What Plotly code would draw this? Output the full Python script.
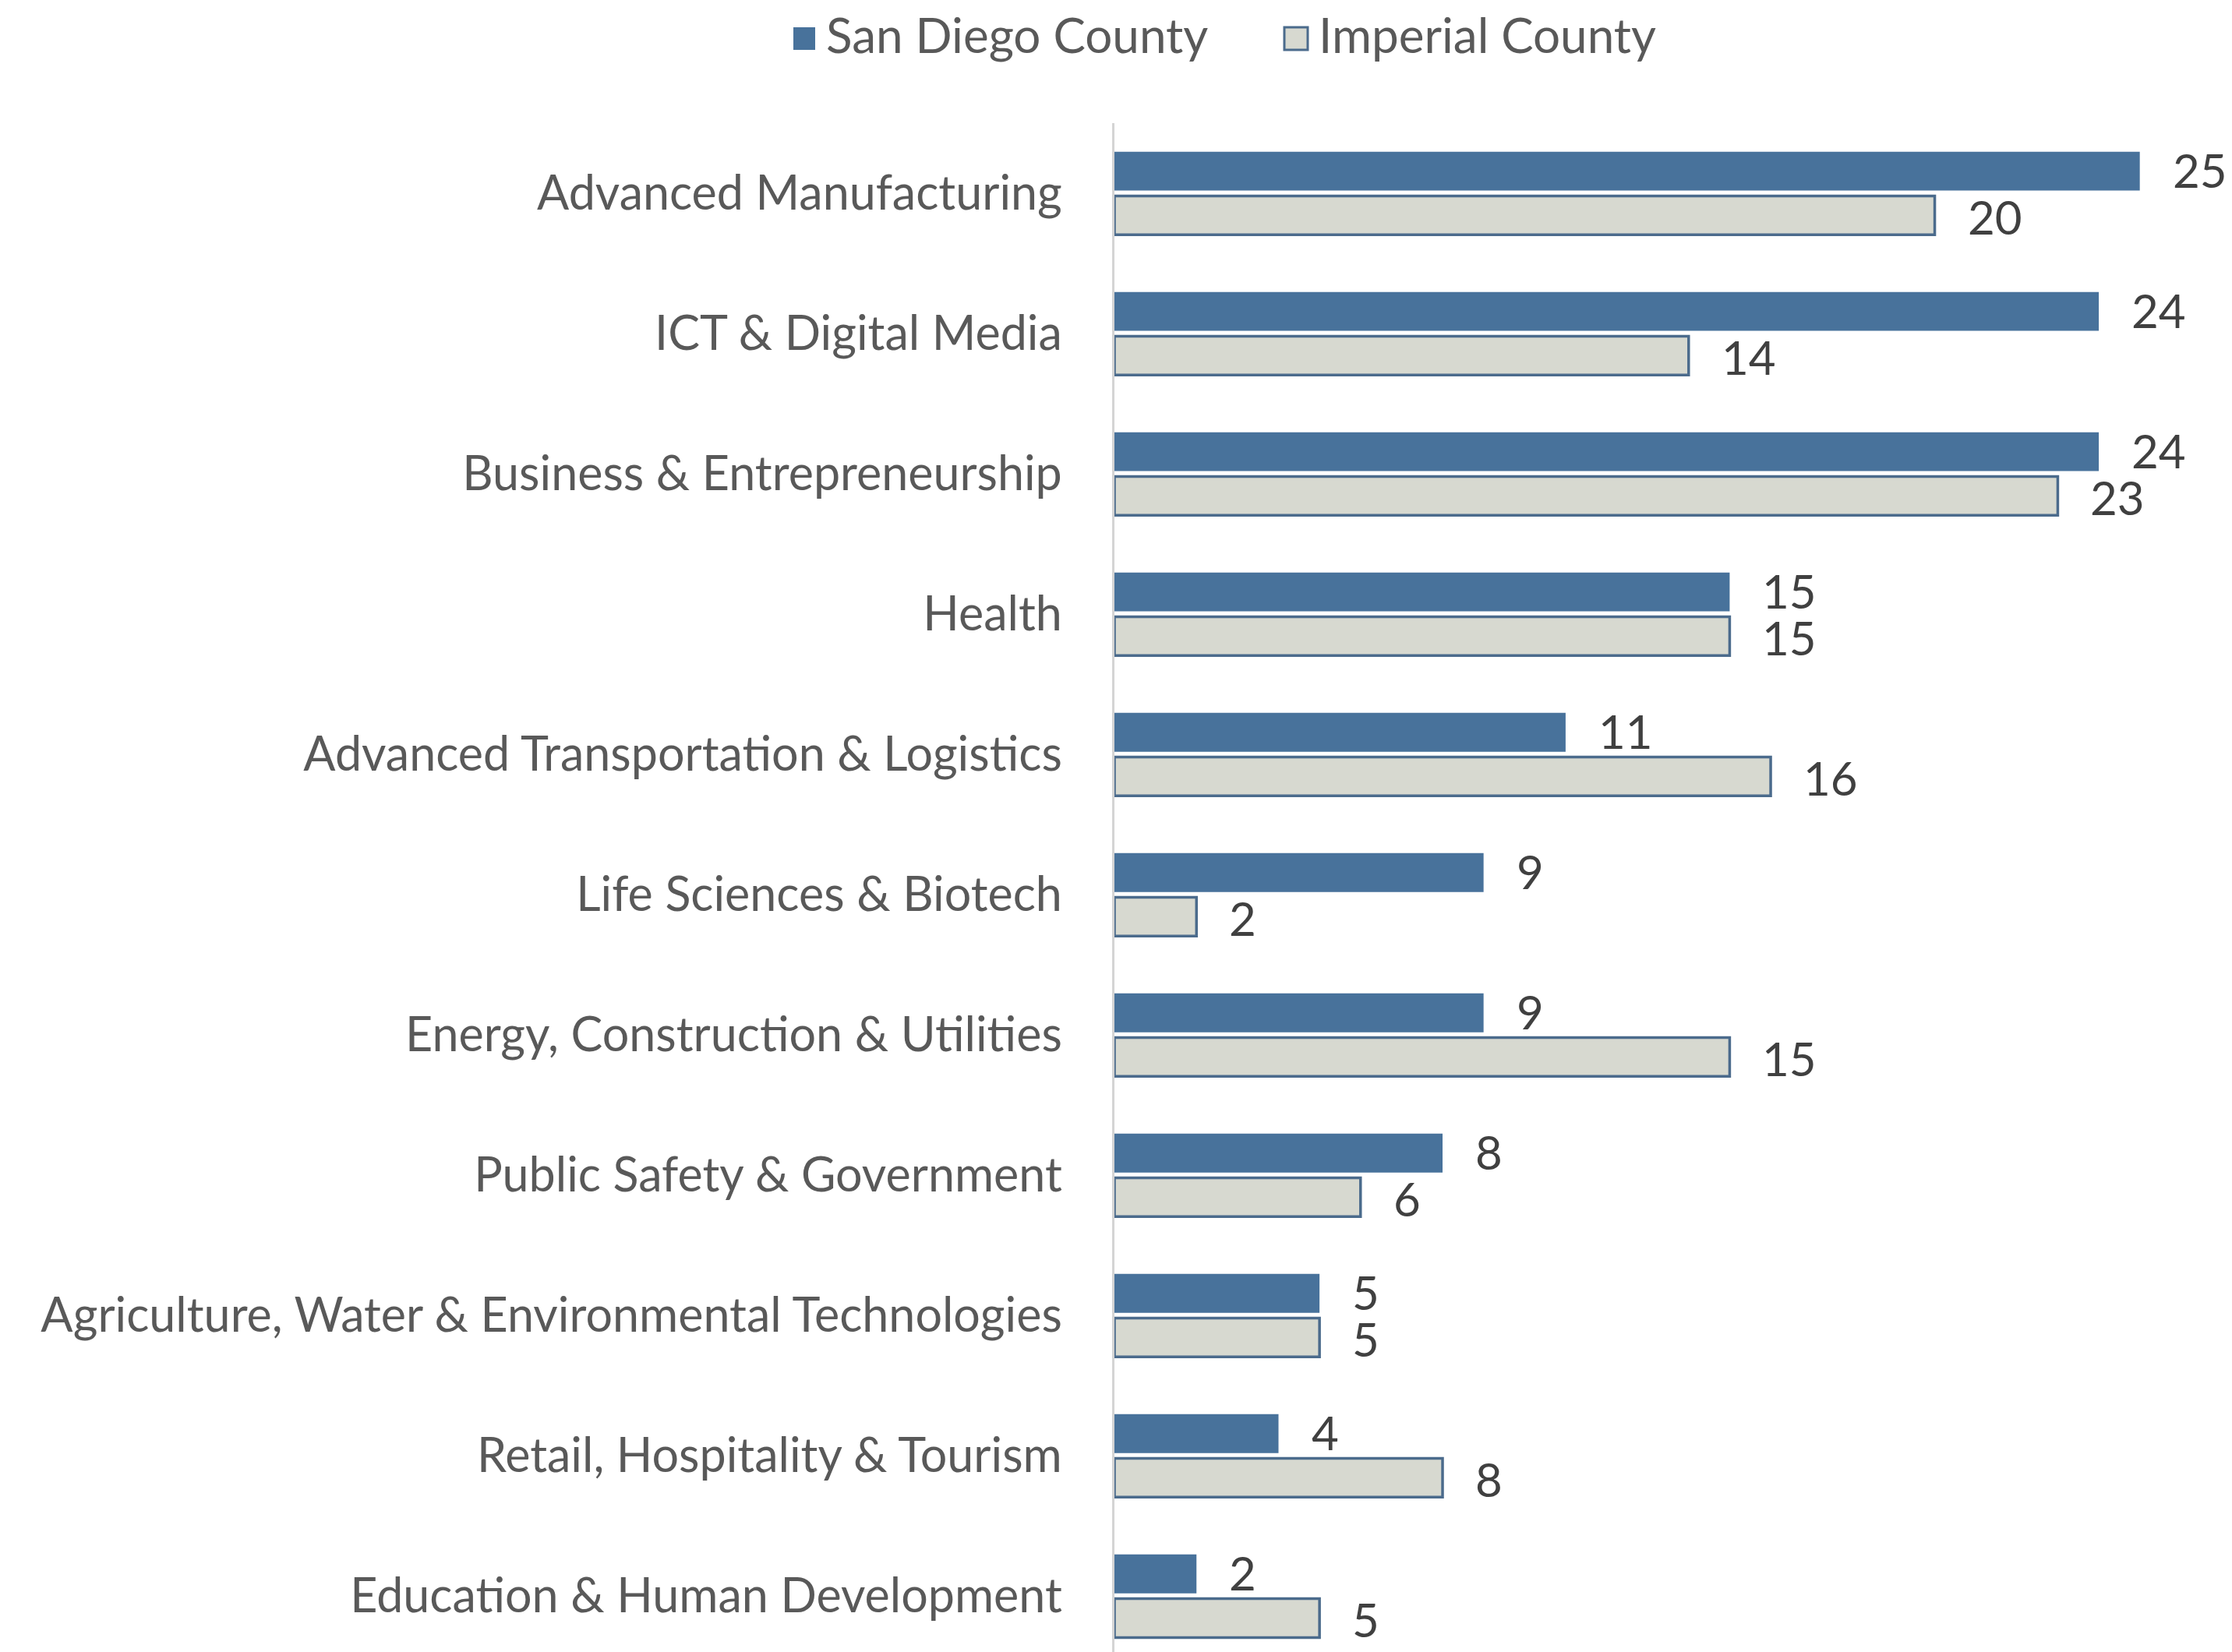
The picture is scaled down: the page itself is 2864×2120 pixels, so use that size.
import plotly.graph_objects as go

categories = [
    "Advanced Manufacturing",
    "ICT & Digital Media",
    "Business & Entrepreneurship",
    "Health",
    "Advanced Transportation & Logistics",
    "Life Sciences & Biotech",
    "Energy, Construction & Utilities",
    "Public Safety & Government",
    "Agriculture, Water & Environmental Technologies",
    "Retail, Hospitality & Tourism",
    "Education & Human Development",
]
san_diego = [25, 24, 24, 15, 11, 9, 9, 8, 5, 4, 2]
imperial = [20, 14, 23, 15, 16, 2, 15, 6, 5, 8, 5]
series_names = ["San Diego County", "Imperial County"]

SD_COLOR = "#48729b"
IMP_FILL = "#d7d9d0"
IMP_LINE = "#4b6b8c"
FONT = "Lato"
TXT = "#595959"

W, H = 2864, 2120
L, R, T, B = 1422, 0, 150, 0
PW, PH = W - L - R, H - T - B


def px_x(px):
    return (px - L) / PW


def px_y(py):
    return (H - B - py) / PH


fig = go.Figure()
fig.add_trace(go.Bar(
    y=categories, x=san_diego, orientation="h", name=series_names[0],
    marker=dict(color=SD_COLOR, line=dict(width=0)), showlegend=False,
))
fig.add_trace(go.Bar(
    y=categories, x=imperial, orientation="h", name=series_names[1],
    marker=dict(color=IMP_FILL, line=dict(color=IMP_LINE, width=3.5)), showlegend=False,
))

annotations = []
for c, v in zip(categories, san_diego):
    annotations.append(dict(x=v, y=c, text=str(v), xanchor="left", yanchor="middle",
                            xshift=40, yshift=30, showarrow=False,
                            font=dict(family=FONT, size=60, color="#404040")))
for c, v in zip(categories, imperial):
    annotations.append(dict(x=v, y=c, text=str(v), xanchor="left", yanchor="middle",
                            xshift=40, yshift=-30, showarrow=False,
                            font=dict(family=FONT, size=60, color="#404040")))

# custom legend (larger square swatches than plotly's legend allows)
shapes = []
legend_items = [
    (series_names[0], 1010, 1038, SD_COLOR, SD_COLOR, 0),
    (series_names[1], 1640, 1670, IMP_FILL, IMP_LINE, 3),
]
for name, x0, x1, fill, line, lw in legend_items:
    shapes.append(dict(type="rect", xref="paper", yref="paper",
                       x0=px_x(x0), x1=px_x(x1), y0=px_y(56), y1=px_y(27),
                       fillcolor=fill, line=dict(color=line, width=lw)))
    annotations.append(dict(xref="paper", yref="paper", x=px_x(x1 + 12), y=px_y(36),
                            xanchor="left", yanchor="middle", text=name, showarrow=False,
                            font=dict(family=FONT, size=62, color=TXT)))

fig.update_layout(
    width=W, height=H,
    margin=dict(l=L, r=R, t=T, b=B, pad=0),
    paper_bgcolor="white", plot_bgcolor="white",
    barmode="group", bargap=0.37, bargroupgap=0.12,
    font=dict(family=FONT, color=TXT, size=60),
    annotations=annotations,
    shapes=shapes,
    showlegend=False,
)
fig.update_xaxes(range=[0, 27.4], visible=False, showgrid=False, zeroline=False)
fig.update_yaxes(
    categoryorder="array", categoryarray=categories,
    range=[10.444, -0.5],
    showline=True, linecolor="#d4d4d4", linewidth=3,
    showgrid=False, zeroline=False, ticks="",
    ticklabelstandoff=52,
    tickfont=dict(family=FONT, size=61, color=TXT),
)

fig.write_html("out.html")
